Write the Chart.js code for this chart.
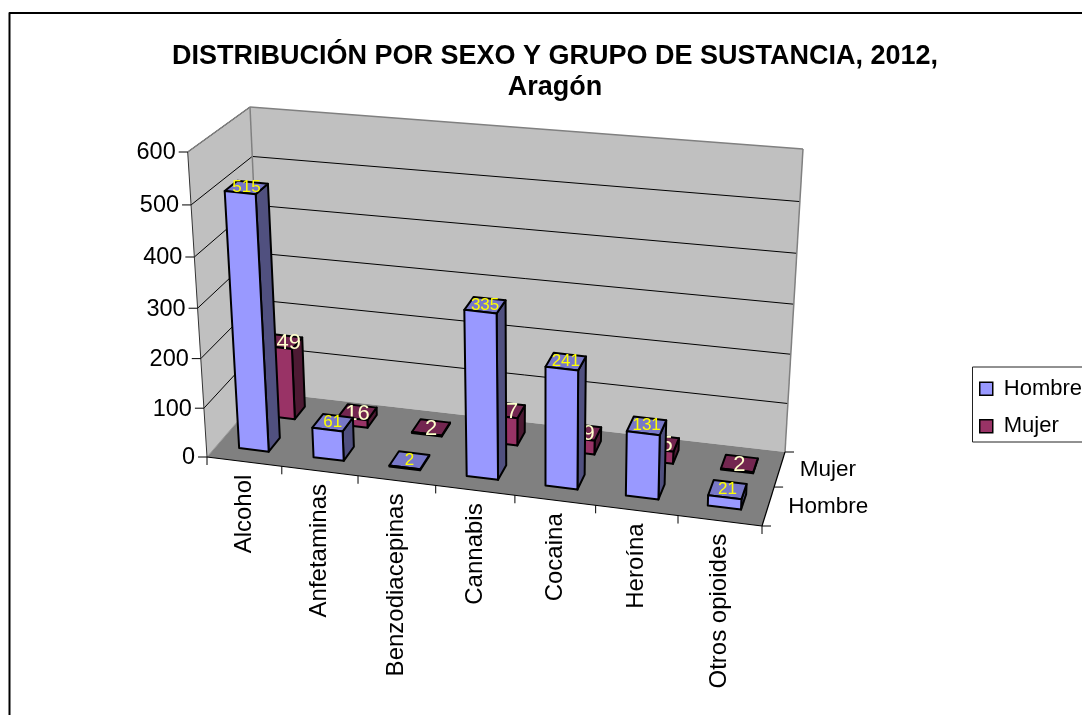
<!DOCTYPE html>
<html>
<head>
<meta charset="utf-8">
<title>Distribución por sexo y grupo de sustancia</title>
<script src="https://cdn.jsdelivr.net/npm/chart.js@4"></script>
<style>
    html, body { margin: 0; padding: 0; background: #ffffff; overflow: hidden; }
    canvas { display: block; }
</style>
</head>
<body>
<canvas id="chart" width="1082" height="715"></canvas>
<script>
const categories = ["Alcohol", "Anfetaminas", "Benzodiacepinas", "Cannabis", "Cocaina", "Heroína", "Otros opioides"];
const hombreValues = [515, 61, 2, 335, 241, 131, 21];
const mujerValues = [149, 16, 2, 57, 29, 25, 2];
const seriesNames = ["Hombre", "Mujer"];
const yTickStep = 100;
const yMax = 600;

const FONT = '"Liberation Sans", Arial, sans-serif';

// corners of the 3D box on screen (front/back, left/right, bottom/top)
const box = {
    flb: [207, 457], flt: [187.7, 152], frb: [762, 526], frt: [773, 218],
    blb: [263, 392], blt: [250, 107], brb: [785, 452], brt: [803, 149],
};

const faces = [
    { front: "#9999ff", side: "#50507f", top: "#7878c8", label: "#ffff00", labelSize: 17, depthShift: 0.015, labelDrop: 0 },
    { front: "#993366", side: "#4d1a33", top: "#732650", label: "#ffffcc", labelSize: 22, depthShift: 0, labelDrop: 1.5 },
];

function warp(t, q) {
    return t / (q + (1 - q) * t);
}

function mix(a, b, t) {
    return [a[0] + (b[0] - a[0]) * t, a[1] + (b[1] - a[1]) * t];
}

// u, v, d are 0..1 along the category axis, the value axis and the depth
function toScreen(u, v, d) {
    const s = warp(u, 1.07);
    const h = warp(v, 1.05);
    const w = warp(d, 0.9);
    const front = mix(mix(box.flb, box.frb, s), mix(box.flt, box.frt, s), h);
    const back = mix(mix(box.blb, box.brb, s), mix(box.blt, box.brt, s), h);
    return mix(front, back, w);
}

function uOf(chart, pixel) {
    const x = chart.scales.x;
    return (pixel - x.left) / x.width;
}

function vOf(chart, value) {
    const y = chart.scales.y;
    return (y.bottom - y.getPixelForValue(value)) / y.height;
}

function polygon(ctx, points, fill, stroke, lineWidth) {
    ctx.beginPath();
    points.forEach((p, i) => (i ? ctx.lineTo(p[0], p[1]) : ctx.moveTo(p[0], p[1])));
    ctx.closePath();
    if (fill) {
        ctx.fillStyle = fill;
        ctx.fill();
    }
    if (stroke) {
        ctx.strokeStyle = stroke;
        ctx.lineWidth = lineWidth;
        ctx.lineJoin = "round";
        ctx.stroke();
    }
}

function line(ctx, a, b, color, width) {
    ctx.beginPath();
    ctx.moveTo(a[0], a[1]);
    ctx.lineTo(b[0], b[1]);
    ctx.strokeStyle = color;
    ctx.lineWidth = width;
    ctx.stroke();
}

function drawWalls(chart) {
    const ctx = chart.ctx;
    const y = chart.scales.y;

    polygon(ctx, [toScreen(0, 0, 1), toScreen(1, 0, 1), toScreen(1, 1, 1), toScreen(0, 1, 1)], "#c0c0c0");
    polygon(ctx, [toScreen(0, 0, 0), toScreen(0, 0, 1), toScreen(0, 1, 1), toScreen(0, 1, 0)], "#c0c0c0");
    polygon(ctx, [toScreen(0, 0, 0), toScreen(1, 0, 0), toScreen(1, 0, 1), toScreen(0, 0, 1)], "#808080");

    y.ticks.forEach((tick) => {
        const v = vOf(chart, tick.value);
        if (tick.value > 0) {
            line(ctx, toScreen(0, v, 0), toScreen(0, v, 1), "#000000", 1);
            if (tick.value < yMax) line(ctx, toScreen(0, v, 1), toScreen(1, v, 1), "#000000", 1);
        }
    });

    // grey outline of the walls
    line(ctx, toScreen(0, 1, 0), toScreen(0, 1, 1), "#808080", 1.5);
    line(ctx, toScreen(0, 1, 1), toScreen(1, 1, 1), "#808080", 1.5);
    line(ctx, toScreen(0, 1, 1), toScreen(0, 0, 1), "#808080", 1.5);
    line(ctx, toScreen(1, 1, 1), toScreen(1, 0, 1), "#808080", 1.5);
    line(ctx, toScreen(0, 0, 0), toScreen(0, 0, 1), "#999999", 1);

    // axis lines
    line(ctx, toScreen(0, 0, 0), toScreen(0, 1, 0), "#333333", 1);
    line(ctx, toScreen(0, 0, 0), toScreen(1, 0, 0), "#000000", 1.2);
    line(ctx, toScreen(1, 0, 0), toScreen(1, 0, 1), "#000000", 1.2);
}

function drawAxisText(chart) {
    const ctx = chart.ctx;
    const x = chart.scales.x;
    const y = chart.scales.y;
    ctx.fillStyle = "#000000";

    // value axis
    y.ticks.forEach((tick) => {
        const p = toScreen(0, vOf(chart, tick.value), 0);
        line(ctx, [p[0] - 9, p[1]], p, "#000000", 1);
        ctx.font = `23.5px ${FONT}`;
        ctx.fillStyle = "#000000";
        ctx.textAlign = "right";
        ctx.textBaseline = "middle";
        ctx.fillText(tick.label, p[0] - 12, p[1] + 1);
    });

    // category axis
    const step = x.width / categories.length;
    for (let i = 0; i <= categories.length; i++) {
        const p = toScreen(i * step / x.width, 0, 0);
        line(ctx, p, [p[0], p[1] + 8], "#000000", 1);
    }
    categories.forEach((name, i) => {
        const p = toScreen(uOf(chart, x.getPixelForValue(i)), 0, 0);
        ctx.save();
        ctx.translate(p[0], p[1] + 13);
        ctx.rotate(-Math.PI / 2);
        ctx.font = `24px ${FONT}`;
        ctx.fillStyle = "#000000";
        ctx.textAlign = "right";
        ctx.textBaseline = "middle";
        ctx.fillText(name, 0, 0);
        ctx.restore();
    });

    // depth axis
    [0, 0.5, 1].forEach((d) => {
        const p = toScreen(1, 0, d);
        line(ctx, p, [p[0] + 9, p[1]], "#000000", 1);
    });
    seriesNames.forEach((name, i) => {
        const p = toScreen(1, 0, (i + 0.5) / seriesNames.length);
        ctx.font = `22.5px ${FONT}`;
        ctx.fillStyle = "#000000";
        ctx.textAlign = "left";
        ctx.textBaseline = "middle";
        ctx.fillText(name, p[0] + 20, p[1] + 1);
    });
}

function drawBars(chart, index) {
    const ctx = chart.ctx;
    const x = chart.scales.x;
    const values = chart.data.datasets[index].data;
    const style = faces[index];
    const halfWidth = 0.2 / categories.length;
    const centerDepth = (index + 0.5) / seriesNames.length + style.depthShift;
    const halfDepth = 0.1;

    values.forEach((value, i) => {
        const uc = uOf(chart, x.getPixelForValue(i));
        const u0 = uc - halfWidth;
        const u1 = uc + halfWidth;
        const d0 = centerDepth - halfDepth;
        const d1 = centerDepth + halfDepth;
        const v = vOf(chart, value);

        polygon(ctx, [toScreen(u1, 0, d0), toScreen(u1, 0, d1), toScreen(u1, v, d1), toScreen(u1, v, d0)], style.side, "#000000", 2);
        polygon(ctx, [toScreen(u0, v, d0), toScreen(u1, v, d0), toScreen(u1, v, d1), toScreen(u0, v, d1)], style.top, "#000000", 2);
        polygon(ctx, [toScreen(u0, 0, d0), toScreen(u1, 0, d0), toScreen(u1, v, d0), toScreen(u0, v, d0)], style.front, "#000000", 2);
    });

    values.forEach((value, i) => {
        const uc = uOf(chart, x.getPixelForValue(i));
        const p = toScreen(uc, vOf(chart, value), centerDepth);
        ctx.font = `${style.labelSize}px ${FONT}`;
        ctx.fillStyle = style.label;
        ctx.textAlign = "center";
        ctx.textBaseline = "middle";
        ctx.fillText(String(value), p[0], p[1] + style.labelDrop);
    });
}

const excel3d = {
    id: "excel3d",
    afterLayout(chart) {
        const legend = chart.legend;
        legend.left += 10;
        legend.right += 10;
        legend.top += 50;
        legend.bottom += 50;
    },
    beforeDatasetsDraw(chart) {
        drawWalls(chart);
        drawAxisText(chart);
    },
    beforeDatasetDraw(chart, args) {
        drawBars(chart, args.index);
        return false;
    },
    afterDraw(chart) {
        const ctx = chart.ctx;
        ctx.save();
        ctx.strokeStyle = "#000000";
        ctx.lineWidth = 2;
        ctx.strokeRect(9.5, 13, 1200, 1200);
        ctx.lineWidth = 1;
        ctx.strokeStyle = "#222222";
        const midY = (chart.legend.top + chart.legend.bottom) / 2;
        ctx.strokeRect(972.5, midY - 40.5, 200, 75);
        ctx.restore();
    },
};

new Chart(document.getElementById("chart"), {
    type: "bar",
    data: {
        labels: categories,
        datasets: [
            { label: seriesNames[0], data: hombreValues, backgroundColor: faces[0].front, borderColor: "#000000", borderWidth: 1.5 },
            { label: seriesNames[1], data: mujerValues, backgroundColor: faces[1].front, borderColor: "#000000", borderWidth: 1.5 },
        ],
    },
    options: {
        responsive: false,
        animation: false,
        layout: { padding: { left: 28 } },
        plugins: {
            tooltip: { enabled: false },
            title: {
                display: true,
                text: ["DISTRIBUCIÓN POR SEXO Y GRUPO DE SUSTANCIA, 2012,", "Aragón"],
                color: "#000000",
                font: { family: FONT, size: 27, weight: "bold", lineHeight: 1.148 },
                padding: { top: 41, bottom: 10 },
            },
            legend: {
                position: "right",
                labels: {
                    color: "#000000",
                    boxWidth: 13,
                    boxHeight: 13,
                    padding: 15.5,
                    font: { family: FONT, size: 22 },
                },
            },
        },
        scales: {
            x: { display: false, grid: { display: false } },
            y: { display: false, min: 0, max: yMax, ticks: { stepSize: yTickStep } },
        },
    },
    plugins: [excel3d],
});
</script>
</body>
</html>
